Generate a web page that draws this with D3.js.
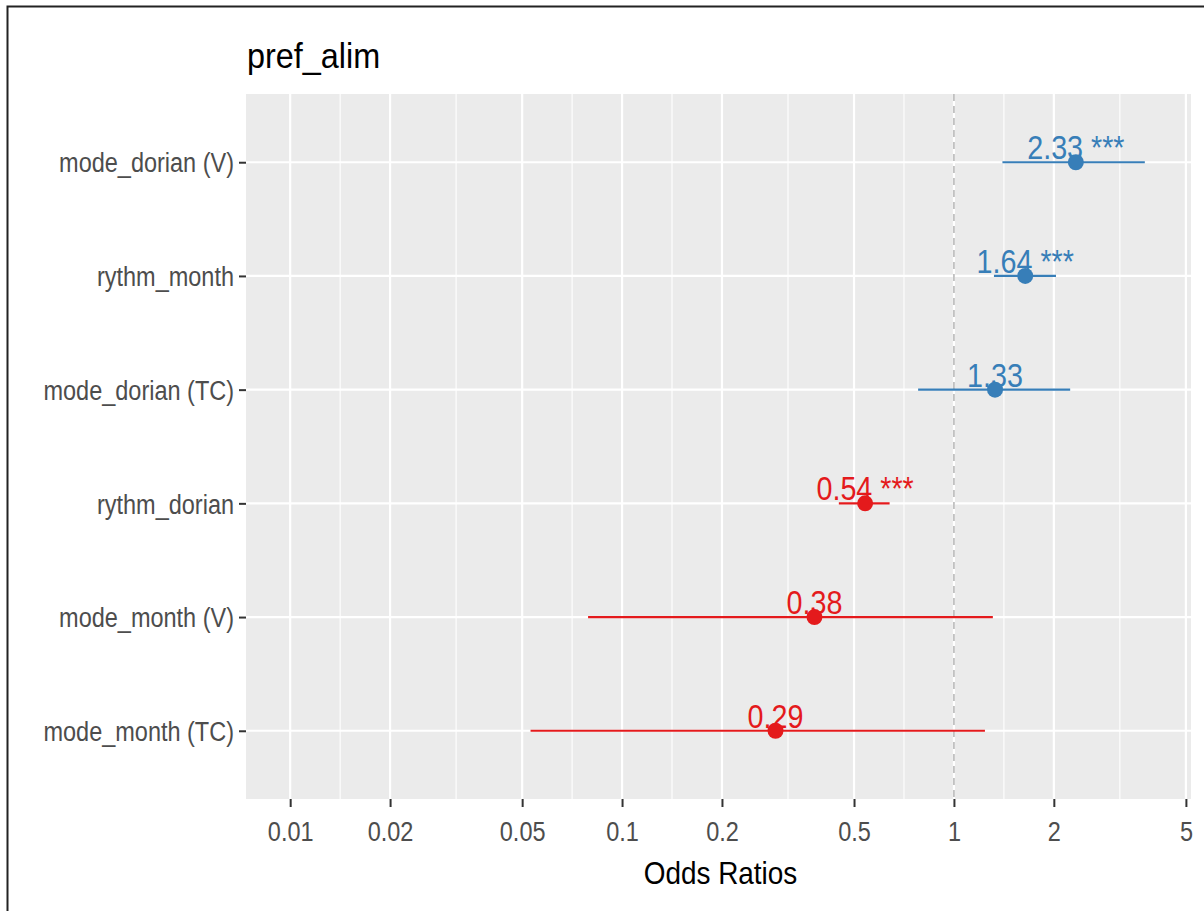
<!DOCTYPE html>
<html>
<head>
<meta charset="utf-8">
<title>pref_alim</title>
<script src="https://cdn.jsdelivr.net/npm/d3@7"></script>
<style>
  body { margin: 0; background: #fff; }
  svg { display: block; font-family: "Liberation Sans", Arial, sans-serif; }
</style>
</head>
<body>
<svg id="chart" width="1204" height="911"></svg>
<script>
// data
var terms = ["mode_dorian (V)", "rythm_month", "mode_dorian (TC)", "rythm_dorian", "mode_month (V)", "mode_month (TC)"];
var estimates = [2.33, 1.64, 1.33, 0.54, 0.38, 0.29];
var ciLow = [1.40, 1.32, 0.78, 0.45, 0.079, 0.053];
var ciHigh = [3.76, 2.03, 2.24, 0.64, 1.31, 1.24];
var stars = ["***", "***", "", "***", "", ""];
var xTicks = [0.01, 0.02, 0.05, 0.1, 0.2, 0.5, 1, 2, 5];
var xDomain = [0.00736, 5.18];

var svg = d3.select("#chart"),
    panel = { left: 246, right: 1191, top: 94, bottom: 799 },
    squash = 0.87; // the picture's text is narrower than plain Arial

var x = d3.scaleLog().domain(xDomain).range([panel.left, panel.right]);
var y = d3.scalePoint().domain(terms).range([panel.top, panel.bottom]).padding(0.6);

var blue = "#377EB8", red = "#E41A1C";
function colour(i) { return estimates[i] > 1 ? blue : red; }

// text at (px,py), squeezed horizontally around its anchor
function narrowText(g, px, py, s) {
  return g.append("text")
    .attr("transform", "translate(" + px + "," + py + ") scale(" + (s || squash) + ",1)");
}

// outer frame
svg.append("path")
  .attr("d", "M7.5,911 L7.5,6.5 L1204,6.5")
  .attr("fill", "none").attr("stroke", "#222").attr("stroke-width", 2);

// panel
svg.append("rect")
  .attr("x", panel.left).attr("y", panel.top)
  .attr("width", panel.right - panel.left).attr("height", panel.bottom - panel.top)
  .attr("fill", "#EBEBEB");

// minor grid (midpoints in log space)
var minor = [];
for (var k = 0; k < xTicks.length - 1; k++) minor.push(Math.sqrt(xTicks[k] * xTicks[k + 1]));

svg.append("g").selectAll("line").data(minor).enter().append("line")
  .attr("x1", function (d) { return x(d); }).attr("x2", function (d) { return x(d); })
  .attr("y1", panel.top).attr("y2", panel.bottom)
  .attr("stroke", "#fff").attr("stroke-width", 1.1);

svg.append("g").selectAll("line").data(xTicks).enter().append("line")
  .attr("x1", function (d) { return x(d); }).attr("x2", function (d) { return x(d); })
  .attr("y1", panel.top).attr("y2", panel.bottom)
  .attr("stroke", "#fff").attr("stroke-width", 2.2);

svg.append("g").selectAll("line").data(terms).enter().append("line")
  .attr("x1", panel.left).attr("x2", panel.right)
  .attr("y1", function (d) { return y(d); }).attr("y2", function (d) { return y(d); })
  .attr("stroke", "#fff").attr("stroke-width", 2.2);

// reference line at 1
svg.append("line")
  .attr("x1", x(1)).attr("x2", x(1))
  .attr("y1", panel.top).attr("y2", panel.bottom)
  .attr("stroke", "#B8B8B8").attr("stroke-width", 1.6)
  .attr("stroke-dasharray", "7,5");

// axes
var xAxis = svg.append("g")
  .attr("transform", "translate(0," + panel.bottom + ")")
  .call(d3.axisBottom(x).tickValues(xTicks).tickFormat(d3.format("~g")).tickSize(8));
xAxis.select(".domain").remove();
xAxis.selectAll("line").attr("stroke", "#333").attr("stroke-width", 2);
xAxis.selectAll("text")
  .attr("y", 42).attr("dy", null)
  .attr("transform", "scale(" + squash + ",1)")
  .attr("font-size", 27).attr("fill", "#4D4D4D")
  .attr("font-family", "Liberation Sans, Arial, sans-serif");

var yAxis = svg.append("g")
  .attr("transform", "translate(" + panel.left + ",0)")
  .call(d3.axisLeft(y).tickSize(7));
yAxis.select(".domain").remove();
yAxis.selectAll("line").attr("stroke", "#333").attr("stroke-width", 2);
yAxis.selectAll("text")
  .attr("x", -12 / squash).attr("dy", "0.36em")
  .attr("transform", "scale(" + squash + ",1)")
  .attr("font-size", 27).attr("fill", "#4D4D4D")
  .attr("font-family", "Liberation Sans, Arial, sans-serif");

// error bars
var idx = d3.range(terms.length);
svg.append("g").selectAll("line").data(idx).enter().append("line")
  .attr("x1", function (i) { return x(ciLow[i]); })
  .attr("x2", function (i) { return x(ciHigh[i]); })
  .attr("y1", function (i) { return y(terms[i]); })
  .attr("y2", function (i) { return y(terms[i]); })
  .attr("stroke", function (i) { return colour(i); })
  .attr("stroke-width", 2.2);

// points
svg.append("g").selectAll("circle").data(idx).enter().append("circle")
  .attr("cx", function (i) { return x(estimates[i]); })
  .attr("cy", function (i) { return y(terms[i]); })
  .attr("r", 8)
  .attr("fill", function (i) { return colour(i); });

// value labels
var labels = svg.append("g");
idx.forEach(function (i) {
  narrowText(labels, x(estimates[i]), y(terms[i]) - 3)
    .attr("text-anchor", "middle")
    .attr("font-size", 33)
    .attr("fill", colour(i))
    .text(d3.format(".2f")(estimates[i]) + (stars[i] ? " " + stars[i] : ""));
});

// titles
narrowText(svg, 247, 68, 0.9)
  .attr("font-size", 36).attr("fill", "#000")
  .text("pref_alim");

narrowText(svg, (panel.left + panel.right) / 2 + 2, 884, 0.9)
  .attr("text-anchor", "middle")
  .attr("font-size", 31).attr("fill", "#000")
  .text("Odds Ratios");
</script>
</body>
</html>
